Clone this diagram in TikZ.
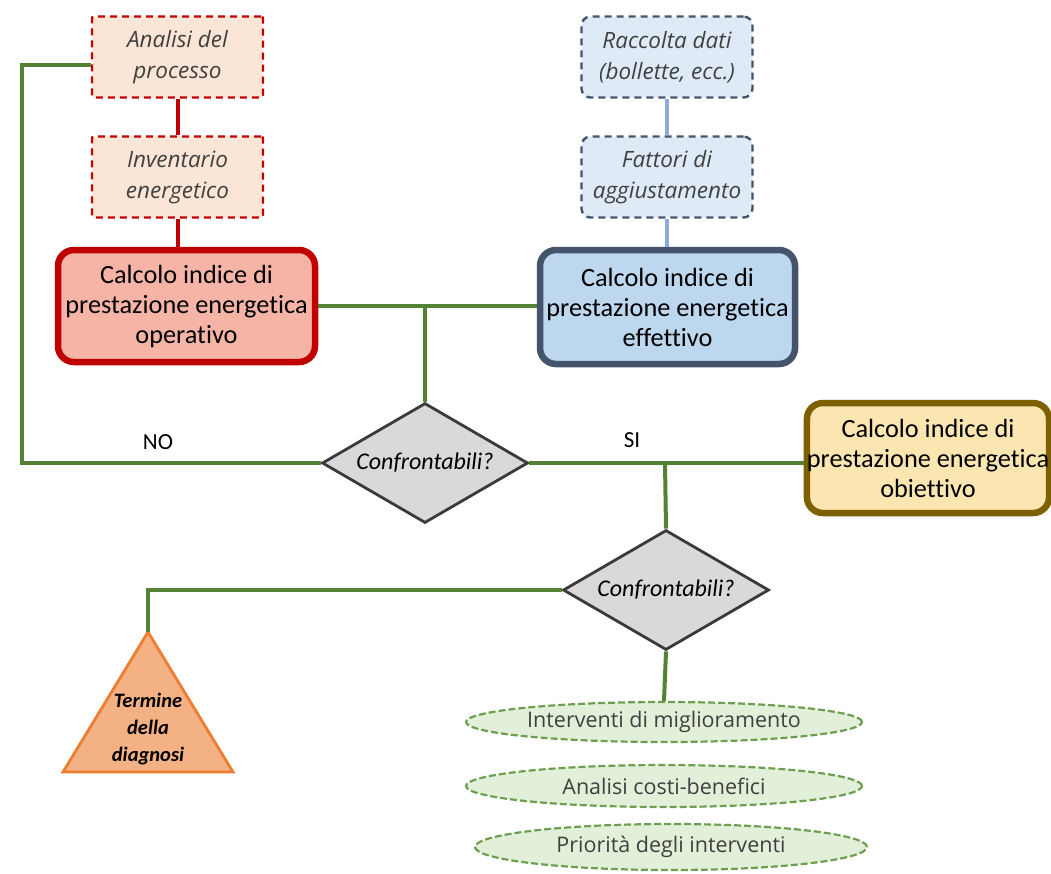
\documentclass[tikz,border=0pt]{standalone}
\usepackage{fontspec}
\setmainfont{Carlito}[Ligatures={NoCommon}]
\newfontfamily\osans{Open Sans}[Ligatures={NoCommon}]
\usetikzlibrary{shapes.geometric,calc}
\definecolor{dred}{HTML}{C00000}
\definecolor{peach}{HTML}{FBE5D6}
\definecolor{salmon}{HTML}{F6B4A6}
\definecolor{slate}{HTML}{44546A}
\definecolor{lblue}{HTML}{BDD7EE}
\definecolor{pblue}{HTML}{DEEBF7}
\definecolor{cblue}{HTML}{8FAADC}
\definecolor{dgreen}{HTML}{548235}
\definecolor{lgray}{HTML}{D9D9D9}
\definecolor{dgray}{HTML}{3A3A3A}
\definecolor{olive}{HTML}{7F6000}
\definecolor{pyellow}{HTML}{FBE6B2}
\definecolor{orfill}{HTML}{F4B183}
\definecolor{orline}{HTML}{ED7D31}
\definecolor{pgreen}{HTML}{E2F0D9}
\definecolor{egreen}{HTML}{6E9E50}
\definecolor{txtgray}{HTML}{404040}
\tikzset{
  smallbox/.style={rectangle, minimum width=171pt, minimum height=81pt, inner sep=0pt,
    line width=2.4pt, dash pattern=on 7pt off 5pt, align=center,
    font=\osans\itshape\fontsize{22.5}{31}\selectfont, text=txtgray},
  redsmall/.style={smallbox, draw=dred, fill=peach, rounded corners=2pt},
  bluesmall/.style={smallbox, draw=slate, fill=pblue, rounded corners=9pt},
  bigbox/.style={rectangle, rounded corners=16pt, line width=6.5pt, inner sep=0pt, align=center,
    font=\fontsize{26.3}{30}\selectfont, text=black},
  decision/.style={diamond, aspect=1.72, minimum width=206pt, minimum height=120pt, inner sep=0pt,
    draw=dgray, fill=lgray, line width=2.8pt, font=\itshape\fontsize{24}{28}\selectfont},
  action/.style={ellipse, inner sep=0pt, draw=egreen, fill=pgreen, line width=2.2pt,
    dash pattern=on 7pt off 3pt, font=\osans\fontsize{21.5}{24}\selectfont, text=txtgray},
  gline/.style={draw=dgreen, line width=4pt},
  rline/.style={draw=dred, line width=4pt},
  bline/.style={draw=cblue, line width=4pt},
  lbl/.style={font=\fontsize{23}{26}\selectfont, text=black}
}
\begin{document}
\begin{tikzpicture}[x=1pt,y=-1pt]
\useasboundingbox (0,0) rectangle (1051,873);
% top boxes
\node[redsmall] (an) at (177.5,57) {Analisi del\\processo};
\node[redsmall] (inv) at (177.5,177) {Inventario\\energetico};
\node[bluesmall] (rac) at (667,57) {Raccolta dati\\(bollette, ecc.)};
\node[bluesmall] (fat) at (667,177) {Fattori di\\aggiustamento};
% main boxes
\node[bigbox, draw=dred, fill=salmon, minimum width=257pt, minimum height=112pt] (op) at (186.5,306)
  {Calcolo indice di\\prestazione energetica\\operativo};
\node[bigbox, draw=slate, fill=lblue, minimum width=255pt, minimum height=114pt] (eff) at (667.5,307)
  {Calcolo indice di\\prestazione energetica\\effettivo};
\node[bigbox, draw=olive, fill=pyellow, minimum width=236pt, minimum height=110pt] (ob) at (928,458)
  {Calcolo indice di\\prestazione energetica\\obiettivo};
% decisions
\node[decision] (d1) at (425,463) {Confrontabili?};
\node[decision] (d2) at (666,590) {Confrontabili?};
% triangle
\coordinate (triapex) at (148,632);
\coordinate (trir) at (233,772);
\coordinate (tril) at (63,772);
\draw[fill=orfill, draw=orline, line width=2.8pt, line join=miter] (triapex) -- (trir) -- (tril) -- cycle;
\node[align=center, font=\bfseries\itshape\fontsize{20.5}{27}\selectfont, text=black] (tritext) at (148,729)
  {Termine\\della\\diagnosi};
% ellipses
\node[action, minimum width=396pt, minimum height=40pt] (e1) at (664,722) {Interventi di miglioramento};
\node[action, minimum width=396pt, minimum height=42pt] (e2) at (664,786) {Analisi costi-benefici};
\node[action, minimum width=392pt, minimum height=46pt] (e3) at (671,847) {Priorità degli interventi};
% connectors
\draw[rline] (an.south) -- (inv.north);
\draw[rline] (inv.south) -- (inv.south |- op.north);
\draw[bline] (rac.south) -- (fat.north);
\draw[bline] (fat.south) -- (fat.south |- eff.north);
\coordinate (j1) at (425,306);
\draw[gline] (op.east) -- (op.east -| eff.west);
\draw[gline] (j1) -- (d1.north);
\coordinate (nocorner) at (22,463);
\draw[gline, line join=miter] (d1.west) -- (nocorner) |- ([yshift=-8pt]an.west);
\draw[gline] (d1.east) -- (d1.east -| ob.west);
\coordinate (j2) at (665,463);
\draw[gline] (j2) -- (d2.north);
\draw[gline, line join=miter] (d2.west) -| (triapex);
\draw[gline] (d2.south) -- (e1.north);
% labels
\node[lbl] (no) at (158,442) {NO};
\node[lbl] (si) at (632,440) {SI};
\end{tikzpicture}
\end{document}
